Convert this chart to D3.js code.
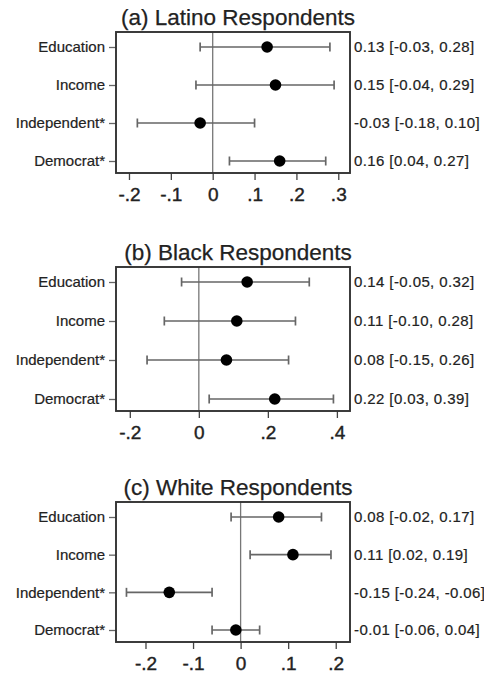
<!DOCTYPE html>
<html>
<head>
<meta charset="utf-8">
<script src="https://cdn.jsdelivr.net/npm/d3@7"></script>
<style>
  body { margin: 0; background: #fff; }
  svg text { font-family: "Liberation Sans", Arial, Helvetica, sans-serif; fill: #222; }
</style>
</head>
<body>
<svg id="chart" width="484" height="677"></svg>
<script>
// rows, top to bottom
var categories = ["Education", "Income", "Independent*", "Democrat*"];
var titles = ["(a) Latino Respondents", "(b) Black Respondents", "(c) White Respondents"];

// point estimates and 95% intervals
var latinoEst = [0.13, 0.15, -0.03, 0.16];
var latinoLo  = [-0.03, -0.04, -0.18, 0.04];
var latinoHi  = [0.28, 0.29, 0.10, 0.27];

var blackEst = [0.14, 0.11, 0.08, 0.22];
var blackLo  = [-0.05, -0.10, -0.15, 0.03];
var blackHi  = [0.32, 0.28, 0.26, 0.39];

var whiteEst = [0.08, 0.11, -0.15, -0.01];
var whiteLo  = [-0.02, 0.02, -0.24, -0.06];
var whiteHi  = [0.17, 0.19, -0.06, 0.04];

// x axis ticks and ranges
var latinoTicks = [-0.2, -0.1, 0, 0.1, 0.2, 0.3];
var blackTicks  = [-0.2, 0, 0.2, 0.4];
var whiteTicks  = [-0.2, -0.1, 0, 0.1, 0.2];
var latinoDomain = [-0.231, 0.328];
var blackDomain  = [-0.24, 0.438];
var whiteDomain  = [-0.262, 0.23];

var svg = d3.select('#chart');
var loc = d3.formatLocale({decimal: ".", thousands: ",", grouping: [3], currency: ["", ""], minus: "-"});
var f2 = loc.format(".2f");
var f1 = loc.format(".1f");
var tickFmt = function (d) {
    if (d === 0) return "0";
    return f1(d).replace("0.", ".");
};

var panels = [
    {title: titles[0], est: latinoEst, lo: latinoLo, hi: latinoHi, ticks: latinoTicks, domain: latinoDomain, top: 32, h: 141},
    {title: titles[1], est: blackEst, lo: blackLo, hi: blackHi, ticks: blackTicks, domain: blackDomain, top: 267, h: 144},
    {title: titles[2], est: whiteEst, lo: whiteLo, hi: whiteHi, ticks: whiteTicks, domain: whiteDomain, top: 502, h: 140}
];

var left = 116, right = 350;
var font = '"Liberation Sans", Arial, sans-serif';

panels.forEach(function (p) {
    var g = svg.append('g');
    var x = d3.scaleLinear().domain(p.domain).range([left, right]);
    var y = d3.scalePoint().domain(categories).range([p.top + 15, p.top + p.h - 12]);

    //title
    g.append('text')
        .attr('x', 238).attr('y', p.top - 7.5)
        .attr('text-anchor', 'middle')
        .style('font-size', '22.5px')
        .style('stroke', '#222').style('stroke-width', 0.25)
        .text(p.title);

    //zero line
    g.append('line')
        .attr('x1', x(0)).attr('x2', x(0))
        .attr('y1', p.top).attr('y2', p.top + p.h)
        .attr('stroke', '#777').attr('stroke-width', 1.3);

    //x axis
    var xAxis = d3.axisBottom(x).tickValues(p.ticks).tickFormat(tickFmt).tickSize(7).tickPadding(8);
    var xa = g.append('g').attr('transform', 'translate(0,' + (p.top + p.h) + ')').call(xAxis);
    xa.select('.domain').remove();
    xa.selectAll('line').attr('stroke', '#444').attr('stroke-width', 1.3);
    xa.selectAll('text').style('font-size', '19px').style('font-family', font)
        .attr('fill', '#222').style('stroke', '#222').style('stroke-width', 0.4);

    //y axis
    var yAxis = d3.axisLeft(y).tickSize(7).tickPadding(4);
    var ya = g.append('g').attr('transform', 'translate(' + left + ',0)').call(yAxis);
    ya.select('.domain').remove();
    ya.selectAll('line').attr('stroke', '#666').attr('stroke-width', 1.3);
    ya.selectAll('text').style('font-size', '15px').style('font-family', font)
        .attr('fill', '#222').style('stroke', '#222').style('stroke-width', 0.2);

    //error bars
    var rows = categories.map(function (c, i) {
        return {cat: c, est: p.est[i], lo: p.lo[i], hi: p.hi[i]};
    });
    var bars = g.selectAll('.bar').data(rows).enter().append('g').attr('class', 'bar');
    bars.append('line')
        .attr('x1', function (d) { return x(d.lo); })
        .attr('x2', function (d) { return x(d.hi); })
        .attr('y1', function (d) { return y(d.cat); })
        .attr('y2', function (d) { return y(d.cat); })
        .attr('stroke', '#666').attr('stroke-width', 1.7);
    ['lo', 'hi'].forEach(function (k) {
        bars.append('line')
            .attr('x1', function (d) { return x(d[k]); })
            .attr('x2', function (d) { return x(d[k]); })
            .attr('y1', function (d) { return y(d.cat) - 4.5; })
            .attr('y2', function (d) { return y(d.cat) + 4.5; })
            .attr('stroke', '#666').attr('stroke-width', 1.7);
    });
    bars.append('circle')
        .attr('cx', function (d) { return x(d.est); })
        .attr('cy', function (d) { return y(d.cat); })
        .attr('r', 5.8)
        .attr('fill', '#000');

    //value labels on the right
    bars.append('text')
        .attr('x', right + 4)
        .attr('y', function (d) { return y(d.cat); })
        .attr('dy', '0.35em')
        .style('font-size', '15px')
        .style('letter-spacing', '0.4px')
        .style('stroke', '#222').style('stroke-width', 0.2)
        .text(function (d) { return f2(d.est) + ' [' + f2(d.lo) + ', ' + f2(d.hi) + ']'; });

    //frame
    g.append('rect')
        .attr('x', left).attr('y', p.top)
        .attr('width', right - left).attr('height', p.h)
        .attr('fill', 'none').attr('stroke', '#333').attr('stroke-width', 1.9);
});
</script>
</body>
</html>
